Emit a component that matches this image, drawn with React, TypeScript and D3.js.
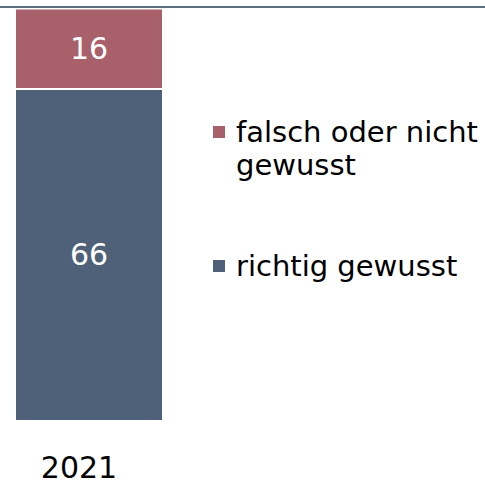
import React from "react";
import * as d3 from "d3";

const categories = ["2021"];
const seriesNames = ["richtig gewusst", "falsch oder nicht gewusst"];
const richtig = [66];
const falsch = [16];
const colors = ["#4e6178", "#a8606a"];

const W = 485;
const H = 486;
const FONT = "'DejaVu Sans', Verdana, sans-serif";

export default function App() {
  const x = d3.scaleBand().domain(categories).range([15, 163]).padding(0);
  const y = d3.scaleLinear().domain([0, 82]).range([421, 8.5]);

  const rows = categories.map((c, i) => ({ cat: c, r: richtig[i], f: falsch[i] }));
  const stack = d3.stack<any>().keys(["r", "f"])(rows);

  return (
    <svg width={W} height={H} style={{ position: "absolute", left: 0, top: 0 }}>
      <rect width={W} height={H} fill="#fff" />
      {stack.map((layer, li) =>
        layer.map((d, i) => {
          const x0 = x(categories[i])!;
          const y0 = y(d[1]);
          const y1 = y(d[0]);
          return (
            <g key={li + "-" + i}>
              <rect
                x={x0}
                y={y0}
                width={x.bandwidth()}
                height={y1 - y0}
                fill={colors[li]}
                stroke="#fff"
                strokeWidth={2}
              />
              <text
                x={x0 + x.bandwidth() / 2}
                y={(y0 + y1) / 2}
                textAnchor="middle"
                dominantBaseline="central"
                fill="#fff"
                fontFamily={FONT}
                fontSize={30}
              >
                {li === 0 ? richtig[i] : falsch[i]}
              </text>
            </g>
          );
        })
      )}
      <line x1={0} x2={W} y1={7} y2={7} stroke="#5f6f82" strokeWidth={2} />
      {categories.map((c) => (
        <text key={c} x={79} y={478} textAnchor="middle" fontFamily={FONT} fontSize={30} fill="#000">
          {c}
        </text>
      ))}
      {/* legend */}
      <rect x={213} y={126} width={12} height={12} fill={colors[1]} />
      <text x={236} y={142} fontFamily={FONT} fontSize={29} fill="#000">
        <tspan x={236} dy={0}>falsch oder nicht</tspan>
        <tspan x={236} dy={33}>gewusst</tspan>
      </text>
      <rect x={213} y={260} width={12} height={12} fill={colors[0]} />
      <text x={236} y={276} fontFamily={FONT} fontSize={29} fill="#000">
        {seriesNames[0]}
      </text>
    </svg>
  );
}
